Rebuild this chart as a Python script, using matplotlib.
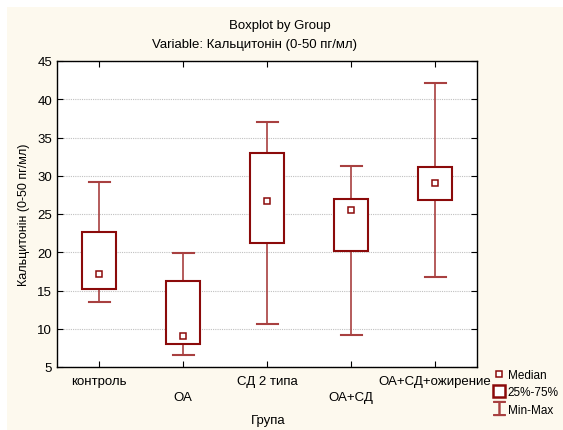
import matplotlib
matplotlib.use('Agg')
import matplotlib.pyplot as plt
from matplotlib.lines import Line2D
from matplotlib.patches import Rectangle

plt.rcParams['font.family'] = ['Liberation Sans', 'DejaVu Sans']
plt.rcParams['font.size'] = 9

# дані
groups = ['контроль', 'ОА', 'СД 2 типа', 'ОА+СД', 'ОА+СД+ожирение']
mins = [13.5, 6.6, 10.6, 9.2, 16.8]
q1 = [15.2, 8.0, 21.2, 20.2, 26.8]
medians = [17.2, 9.0, 26.7, 25.5, 29.1]
q3 = [22.6, 16.2, 33.0, 27.0, 31.2]
maxs = [29.2, 19.9, 37.0, 31.3, 42.1]
yticks = [5, 10, 15, 20, 25, 30, 35, 40, 45]

BG = '#FDF9EE'
BOX = '#8B0A0A'
WHISK = '#A84040'

fig = plt.figure(figsize=(5.63, 4.31), dpi=100)
fig.patch.set_facecolor('white')
# кремовий фон з білою смугою зліва та зверху
fig.patches.append(Rectangle((7 / 563, 0), 1, 1 - 8 / 431, transform=fig.transFigure,
                             facecolor=BG, edgecolor='none', zorder=-10))

ax = fig.add_axes([57 / 563, 1 - 368 / 431, 420 / 563, 306 / 431])
ax.set_facecolor('white')

pos = list(range(1, len(groups) + 1))
bw = 0.4
cap = 0.25
for x, lo, a, m, b, hi in zip(pos, mins, q1, medians, q3, maxs):
    ax.plot([x, x], [lo, a], color=WHISK, lw=1.2, zorder=3)
    ax.plot([x, x], [b, hi], color=WHISK, lw=1.2, zorder=3)
    ax.plot([x - cap / 2, x + cap / 2], [lo, lo], color=WHISK, lw=1.5, zorder=3)
    ax.plot([x - cap / 2, x + cap / 2], [hi, hi], color=WHISK, lw=1.5, zorder=3)
    ax.add_patch(Rectangle((x - bw / 2, a), bw, b - a, facecolor='white',
                           edgecolor=BOX, lw=1.5, zorder=4))
    ax.plot(x, m, marker='s', ms=4, mfc='white', mec=BOX, mew=1.1, zorder=5)

ax.set_xlim(0.5, 5.5)
ax.set_ylim(5, 45)
ax.set_yticks(yticks)
ax.set_xticks(pos)
ax.set_xticklabels([])
for i, (x, g) in enumerate(zip(pos, groups)):
    dy = -0.025 if i % 2 == 0 else -0.077
    ax.text(x, dy, g, transform=ax.get_xaxis_transform(), ha='center', va='top',
            fontsize=9.5)

ax.yaxis.grid(True, linestyle=(0, (1, 1)), color='#C0C0C0', lw=0.8)
ax.set_axisbelow(True)
ax.tick_params(direction='in', top=True, right=True, length=4, labelsize=9.5)
for s in ax.spines.values():
    s.set_linewidth(1.0)

ax.set_ylabel('Кальцитонін (0-50 пг/мл)', fontsize=9, labelpad=5)
fig.text(268 / 563, 1 - 421 / 431, 'Група', ha='center', va='center', fontsize=9.5)
fig.text(280 / 563, 1 - 26 / 431, 'Boxplot by Group', ha='center', va='center', fontsize=9.5)
fig.text(254 / 563, 1 - 45 / 431, 'Variable: Кальцитонін (0-50 пг/мл)',
         ha='center', va='center', fontsize=9.5)

# легенда праворуч від області графіка
handles = [
    Line2D([], [], ls='none', marker='s', ms=4, mfc='white', mec=BOX, mew=1.1),
    Line2D([], [], ls='none', marker='s', ms=9, mfc='white', mec=BOX, mew=1.8),
    Line2D([], [], ls='none', marker='$\u2336$', ms=10, color=WHISK),
]
leg = fig.legend(handles, ['Median', '25%-75%', 'Min-Max'], loc='upper left',
                 bbox_to_anchor=(489 / 563, 1 - 364 / 431), frameon=False,
                 handlelength=0.7, handletextpad=0.4, labelspacing=0.45,
                 borderpad=0, fontsize=8.5)

fig.savefig('out.png', dpi=100, facecolor=fig.get_facecolor())
